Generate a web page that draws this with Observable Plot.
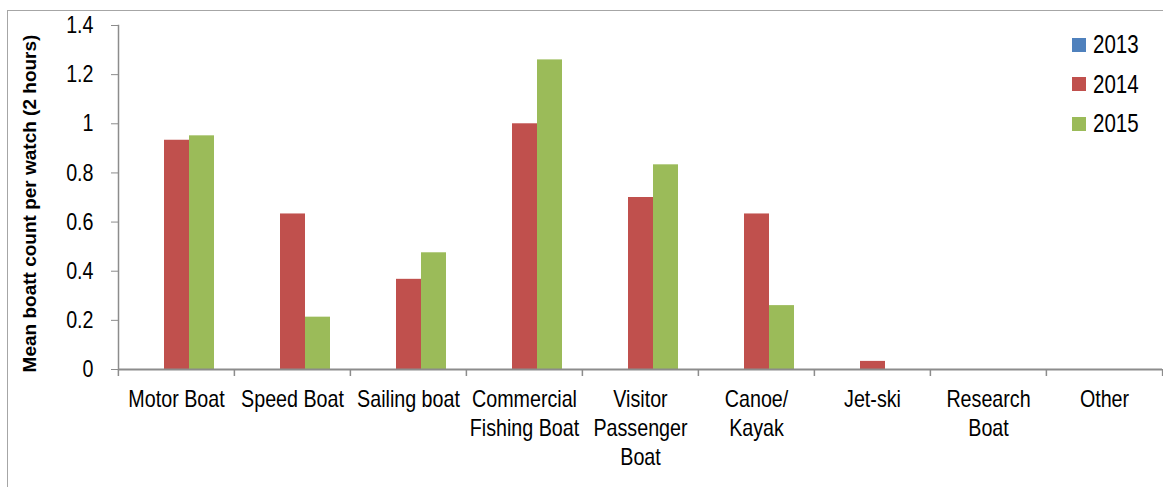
<!DOCTYPE html>
<html>
<head>
<meta charset="utf-8">
<script src="https://cdn.jsdelivr.net/npm/d3@7"></script>
<script src="https://cdn.jsdelivr.net/npm/@observablehq/plot@0.6"></script>
<style>
  html, body { margin: 0; padding: 0; background: #fff; overflow: hidden; }
  #chart { position: relative; width: 1163px; height: 487px; overflow: hidden; }
  #border { position: absolute; left: 7px; top: 10px; width: 2000px; height: 2000px;
            border-left: 1px solid #a6a6a6; border-top: 1px solid #a6a6a6; }
  #chart svg { position: absolute; left: 0; top: 0; }
  #chart [aria-label="y-axis label"] { font-weight: bold; font-size: 19px; }
  #legend { position: absolute; left: 1072px; top: 25px;
            font: 25px "Liberation Sans", Arial, sans-serif; color: #000; }
  #legend .item { display: flex; align-items: center; height: 39.5px; }
  #legend .sw { width: 14px; height: 14px; margin-right: 7px; flex: none; }
  #legend .txt { display: inline-block; transform: scaleX(0.82); transform-origin: 0 50%; }
</style>
</head>
<body>
<div id="chart"><div id="border"></div></div>
<script>
// Boat categories and their axis labels (line breaks as printed under the bars)
const categories = ["Motor Boat", "Speed Boat", "Sailing boat", "Commercial Fishing Boat",
  "Visitor Passenger Boat", "Canoe/Kayak", "Jet-ski", "Research Boat", "Other"];
const categoryLabels = ["Motor Boat", "Speed Boat", "Sailing boat", "Commercial\nFishing Boat",
  "Visitor\nPassenger\nBoat", "Canoe/\nKayak", "Jet-ski", "Research\nBoat", "Other"];

// Survey years and mean boat count per 2-hour watch
const years = ["2013", "2014", "2015"];
const values2013 = [0, 0, 0, 0, 0, 0, 0, 0, 0];
const values2014 = [0.933, 0.633, 0.367, 1.0, 0.7, 0.633, 0.033, 0, 0];
const values2015 = [0.951, 0.213, 0.475, 1.26, 0.833, 0.26, 0, 0, 0];
const yearColors = ["#4f81bd", "#c0504d", "#9bbb59"];

const yTicks = [0, 0.2, 0.4, 0.6, 0.8, 1, 1.2, 1.4];
const yTitle = "Mean boatt count per watch (2 hours)";

const seriesValues = [values2013, values2014, values2015];
const rows = categories.flatMap((c, i) =>
  years.map((yr, j) => ({category: c, year: yr, value: seriesValues[j][i]})));
const labelOf = new Map(categories.map((c, i) => [c, categoryLabels[i]]));

const W = 1163, H = 487, ML = 117, MR = 0;
const band = (W - ML - MR) / categories.length;
const axisGray = "#8c8c8c";
const font = "'Liberation Sans', Arial, sans-serif";

const chart = Plot.plot({
  width: W, height: H,
  marginLeft: ML, marginRight: MR, marginTop: 25, marginBottom: 118,
  style: {fontFamily: font, fontSize: "24px", color: "#000", background: "transparent"},
  fx: {domain: categories, padding: 0, label: null},
  x: {domain: years, paddingInner: 0, paddingOuter: 0.78, axis: null},
  y: {domain: [0, 1.4], label: null},
  color: {domain: years, range: yearColors},
  marks: [
    Plot.barY(rows, {fx: "category", x: "year", y: "value", fill: "year"}),
    Plot.ruleY([0], {stroke: axisGray, strokeWidth: 2}),
    Plot.frame({anchor: "left", facetAnchor: "left", stroke: axisGray, strokeWidth: 1.5}),
    Plot.axisY({
      ticks: yTicks, tickSize: 7, tickPadding: 18, stroke: axisGray, fill: "#000",
      tickFormat: d => String(d),
      label: yTitle, labelAnchor: "center", labelArrow: "none", labelOffset: 96
    }),
    Plot.axisFx({
      anchor: "bottom", tickSize: 0, tickPadding: 17, lineHeight: 1.2,
      fill: "#000", tickFormat: c => labelOf.get(c), label: null
    }),
    // tick marks between categories
    Plot.axisFx({anchor: "bottom", tickSize: 7, stroke: axisGray, strokeWidth: 1.5,
      tickFormat: () => "", dx: -band / 2, label: null}),
    Plot.axisFx({anchor: "bottom", ticks: [categories[categories.length - 1]], tickSize: 7,
      stroke: axisGray, strokeWidth: 1.5, tickFormat: () => "", dx: band / 2, label: null})
  ]
});
document.getElementById("chart").appendChild(chart);

// Condensed lettering for tick labels: squeeze each line of text horizontally
function condense(el, k) {
  const w = el.getComputedTextLength();
  if (w > 0) {
    el.setAttribute("textLength", w * k);
    el.setAttribute("lengthAdjust", "spacingAndGlyphs");
  }
}
chart.querySelectorAll("text").forEach(t => {
  if (t.closest('[aria-label="y-axis label"]')) {
    // the axis title sits slightly below the middle of the value range
    t.setAttribute("transform", "translate(0,6) " + (t.getAttribute("transform") || ""));
    return;
  }
  const spans = t.querySelectorAll("tspan");
  if (spans.length) spans.forEach(s => condense(s, 0.82));
  else condense(t, 0.82);
});

// Legend
const legend = d3.select("#chart").append("div").attr("id", "legend");
const items = legend.selectAll(".item").data(years).join("div").attr("class", "item");
items.append("div").attr("class", "sw").style("background", (d, i) => yearColors[i]);
items.append("span").attr("class", "txt").text(d => d);
</script>
</body>
</html>
